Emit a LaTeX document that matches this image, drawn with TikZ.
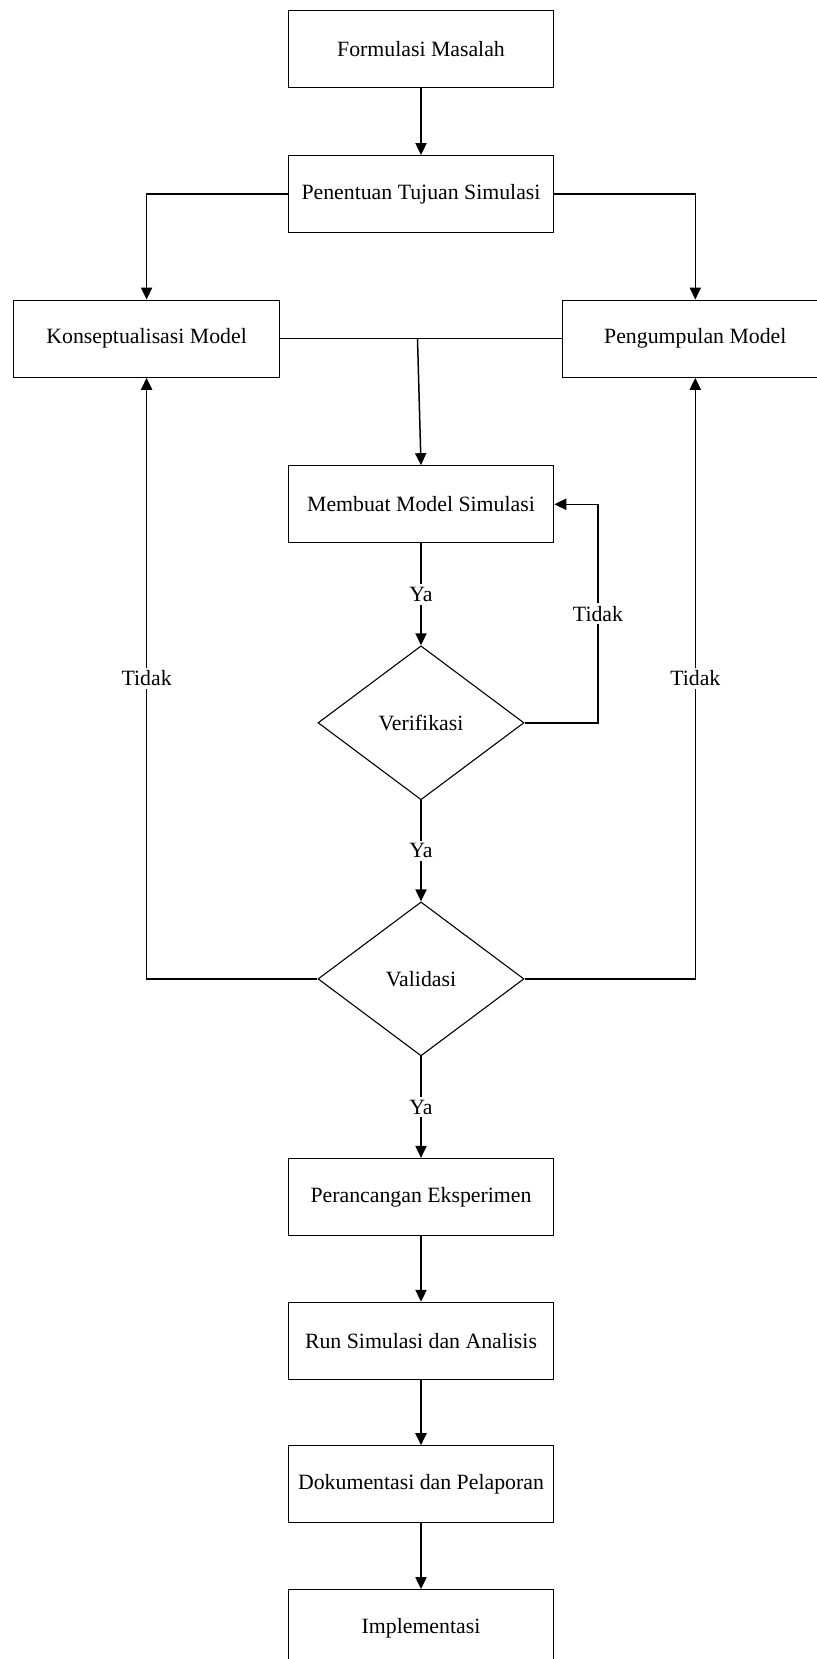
\documentclass[tikz,border=0pt]{standalone}
\usepackage{fontspec}
\setmainfont{Liberation Serif}
\usetikzlibrary{shapes.geometric,arrows.meta}

\begin{document}
\begin{tikzpicture}[x=0.5pt,y=-0.5pt,
  box/.style={draw,line width=0.55pt,minimum width=132.8pt,minimum height=38.6pt,font=\fontsize{10.9}{13}\selectfont},
  cek/.style={draw,diamond,line width=0.55pt,minimum width=103pt,minimum height=77pt,inner sep=0pt,font=\fontsize{10.9}{13}\selectfont},
  arr/.style={-{Triangle[length=6pt,width=5.6pt]},line width=0.75pt},
  garis/.style={line width=0.75pt},
  lbl/.style={fill=white,inner sep=1.5pt,font=\fontsize{10.9}{13}\selectfont}]
\clip (0,0) rectangle (817,1659);

\node[box] (formulasi) at (421,49.2) {Formulasi Masalah};
\node[box] (tujuan) at (421,194.2) {Penentuan Tujuan Simulasi};
\node[box] (konsep) at (146.6,338.7) {Konseptualisasi Model};
\node[box] (kumpul) at (695.3,338.7) {Pengumpulan Model};
\node[box] (buat) at (421,504.3) {Membuat Model Simulasi};
\node[cek] (verif) at (421,722.8) {Verifikasi};
\node[cek] (valid) at (421,978.9) {Validasi};
\node[box] (rancang) at (421,1197) {Perancangan Eksperimen};
\node[box] (run) at (421,1340.9) {Run Simulasi dan Analisis};
\node[box] (dok) at (421,1484.3) {Dokumentasi dan Pelaporan};
\node[box] (impl) at (421,1628.2) {Implementasi};

\coordinate (gabung) at (417.5,338.7);
\coordinate (balik) at (598,722.8);

\draw[arr] (formulasi) -- (tujuan);
\draw[arr] (tujuan.west) -| (konsep.north);
\draw[arr] (tujuan.east) -| (kumpul.north);
\draw[garis] (konsep.east) -- (kumpul.west);
\draw[arr] (gabung) -- (buat.north);
\draw[arr] (buat) -- node[lbl] {Ya} (verif);
\draw[arr] (verif.east) -- (balik) |- node[lbl,pos=0.25] {Tidak} (buat.east);
\draw[arr] (verif) -- node[lbl] {Ya} (valid);
\draw[arr] (valid.west) -| node[lbl,pos=0.75] {Tidak} (konsep.south);
\draw[arr] (valid.east) -| node[lbl,pos=0.75] {Tidak} (kumpul.south);
\draw[arr] (valid) -- node[lbl] {Ya} (rancang);
\draw[arr] (rancang) -- (run);
\draw[arr] (run) -- (dok);
\draw[arr] (dok) -- (impl);
\end{tikzpicture}
\end{document}
